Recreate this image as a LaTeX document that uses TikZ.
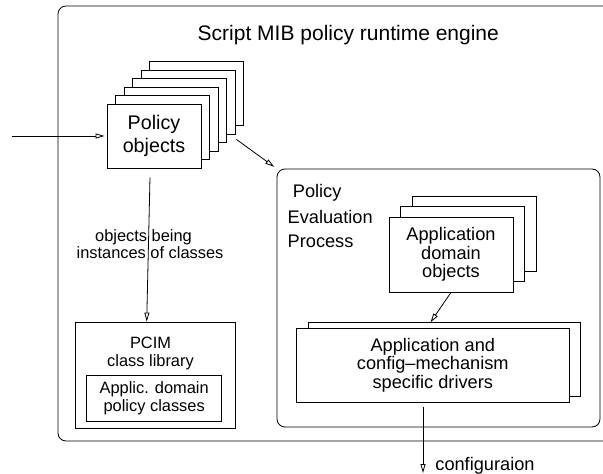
\documentclass[tikz,border=0pt]{standalone}
\usepackage{fontspec}
\setmainfont{Liberation Sans}
\usetikzlibrary{arrows.meta,calc}
\begin{document}
\begin{tikzpicture}[x=1pt,y=-1pt, line width=0.8pt,
  card/.style={draw, fill=white, inner sep=0pt, align=center},
  frame/.style={draw, rounded corners=8pt, inner sep=0pt},
  arr/.style={-{Triangle[open,length=9pt,width=5pt]}},
  big/.style={font=\fontsize{19.7}{22.4}\selectfont},
  mid/.style={font=\fontsize{18.2}{18.5}\selectfont},
  small/.style={font=\fontsize{16.4}{18}\selectfont}]
\useasboundingbox (0,0) rectangle (603,474);
\clip (0,0) rectangle (603,474);

% outer engine frame (right side runs off the picture)
\node[frame, minimum width=582pt, minimum height=435pt] (engine) at (349,223.5) {};
\node[font=\fontsize{21}{25}\selectfont, anchor=base] (title) at (348.3,40) {Script MIB policy runtime engine};

% policy objects stack
\foreach \k in {5,4,3,2,1}
  \node[card, minimum width=94pt, minimum height=64pt] (pol\k) at ({154+8.5*\k},{136-8.5*\k}) {};
\node[card, big, minimum width=94pt, minimum height=64pt] (pol0) at (154,136) {Policy\\objects};

\coordinate (in) at (12,136);
\draw[arr, shorten >=2pt] (in) -- (pol0.west);

% policy evaluation process
\node[frame, minimum width=323pt, minimum height=258pt] (pep) at (438.5,298) {};
\node[mid, anchor=base west, inner sep=0pt] (pep1) at (292.5,197.5) {Policy};
\node[mid, anchor=base west, inner sep=0pt] (pep2) at (287.3,223.3) {Evaluation};
\node[mid, anchor=base west, inner sep=0pt] (pep3) at (287.3,247.7) {Process};

\draw[arr, shorten >=3pt] ($(pol4.south east)+(1,5)$) -- (pep.north west);

% application domain objects stack
\foreach \k in {2,1}
  \node[card, minimum width=124pt, minimum height=75pt] (ado\k) at ({451+11.5*\k},{254.5-10.3*\k}) {};
\node[card, mid, minimum width=124pt, minimum height=75pt] (ado0) at (451,254.5) {Application\\domain\\objects};

% drivers
\node[card, minimum width=272.5pt, minimum height=74pt] (drv1) at (444.3,359.7) {};
\node[card, mid, minimum width=272.5pt, minimum height=74pt] (drv0) at (432.8,365) {Application and\\config--mechanism\\specific drivers};

\draw[arr] (ado0.south) -- ($(drv1.north)+(-13.8,0)$);

\coordinate (out) at (423,473);
\draw[arr] ($(drv0.south)+(-9.8,4.7)$) -- (out);
\node[mid, anchor=base west, inner sep=0pt] (cfg) at (435,470) {configuraion};

% PCIM class library
\node[draw, inner sep=0pt, minimum width=159.3pt, minimum height=106pt] (pcim) at (155.3,375) {};
\node[small, anchor=base, inner sep=0pt] (pcim1) at (150.5,348) {PCIM};
\node[small, anchor=base, inner sep=0pt] (pcim2) at (150.5,366) {class library};
\node[card, small, minimum width=135pt, minimum height=46pt] (apc) at (154.2,398.7) {Applic. domain\\policy classes};

\draw[arr] ($(pol0.south)+(-4,9)$) -- ($(pcim.north)+(-8.6,0)$);
\node[small, anchor=base, inner sep=0pt] (lbl1) at (143.5,241) {objects being};
\node[small, anchor=base, inner sep=0pt] (lbl2) at (150,258) {instances of classes};
\end{tikzpicture}
\end{document}
